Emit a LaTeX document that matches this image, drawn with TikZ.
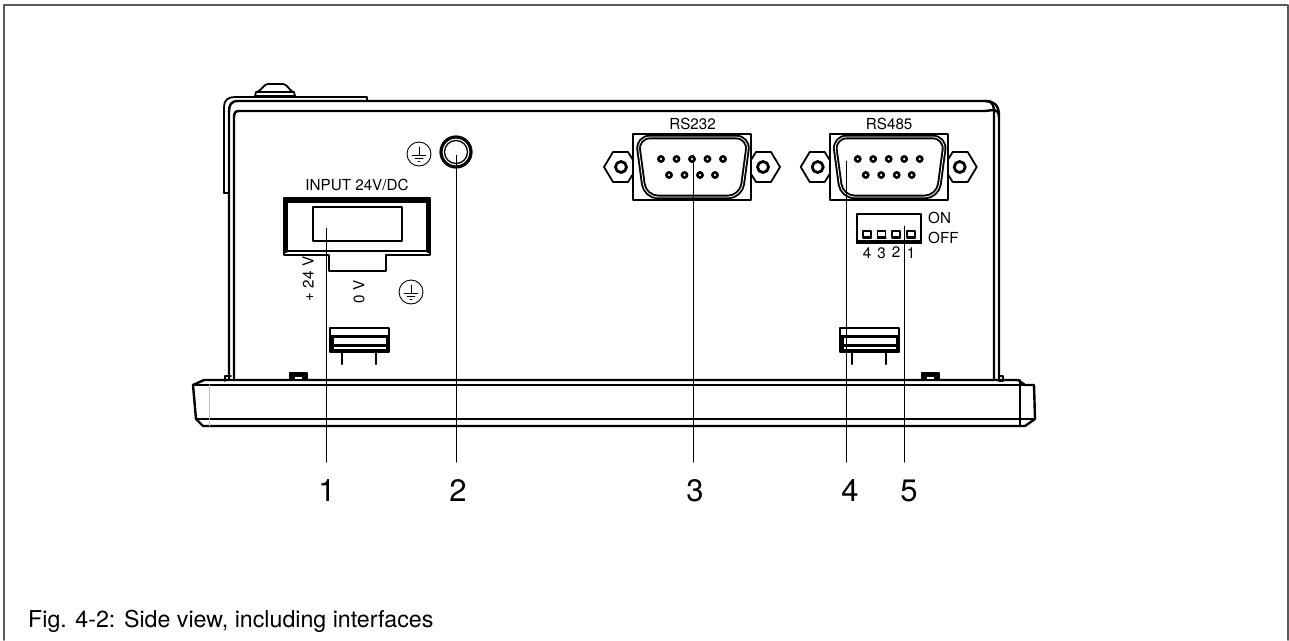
\documentclass[tikz,border=0pt]{standalone}
\usepackage{fontspec}
\setmainfont{TeX Gyre Heros}
\usetikzlibrary{positioning}

\begin{document}
\begin{tikzpicture}[x=1pt, y=-1pt, line join = round, line cap = round,
    heavy/.style={line width=2.4pt},
    medium/.style={line width=1.8pt},
    leader/.style={line width=1pt},
    shell/.style={line width=1.9pt, double, double distance=0.8pt, rounded corners=13pt},
    smalltext/.style={font=\fontsize{15.2}{15.2}\selectfont, inner sep=0pt},
    numtext/.style={font=\fontsize{31}{31}\selectfont, inner sep=0pt}]

    \useasboundingbox (0,0) rectangle (1289,640);

    % outer frame
    \draw[line width=1.5pt, black!65] (4,640) -- (4,5) -- (1288,5) -- (1288,640);

    % housing
    \draw[heavy] (234,380) -- (234,118) .. controls (234,113) and (235,111) .. (239,111) -- (985,111);
    \draw[heavy] (229,380) -- (229,112) .. controls (229,105) and (231,101) .. (238,101) -- (985,101)
                 .. controls (993,101) and (994,106) .. (994,112) -- (994,380);
    \draw[heavy] (985,111) .. controls (991,111) and (999,106) .. (999,118) -- (999,380);
    \draw[heavy] (985,101) .. controls (993,101) and (999,104) .. (999,116);
    \draw[medium] (224,193) -- (224,107) .. controls (224,100) and (228,97) .. (235,97) -- (367,97) -- (367,101);
    \draw[medium] (229,193) -- (224,193);
    \draw[medium, fill=white] (255,96) -- (256,92) -- (294,92) -- (295,96) -- cycle;
    \draw[medium] (257,92) .. controls (262,90) and (264,84) .. (268,84) -- (283,84) .. controls (287,84) and (289,90) .. (293,92);

    % front bezel
    \draw[heavy] (204,380) -- (1018,380) -- (1025,385) -- (1034,385) -- (1035,419) -- (1025,426) -- (203,426)
                 -- (196,419) -- (193,385) -- (204,380) -- cycle;
    \draw[heavy] (193,385) -- (1034,385);
    \draw[heavy] (196,419) -- (1034,419);
    \draw[medium] (1020,380) -- (1020,426);
    \draw[line width=0.6pt, black!25] (209,385) -- (209,426);
    \foreach \tx in {290,922}{
        \draw[medium, fill=black] (\tx,373) rectangle ++(17,7);
        \fill[white] (\tx+5,376.5) rectangle ++(7,2);
    }
    \draw[medium] (225,381) -- (225,376) -- (231,376);
    \draw[medium] (999,376) -- (1003,376) -- (1003,381) -- (999,381);

    % clips
    \foreach \cx in {330,840}{
        \draw[medium] (\cx,328) rectangle ++(59,24);
        \draw[line width=4pt] (\cx+1.5,337) -- (\cx+1.5,351);
        \draw[line width=4pt] (\cx+57.5,337) -- (\cx+57.5,351);
        \draw[heavy] (\cx+1.5,336.5) -- ++(56,0);
        \draw[heavy] (\cx+1.5,345.5) -- ++(56,0);
        \draw[heavy] (\cx+1.5,350.5) -- ++(56,0);
        \draw[heavy] (\cx+12,352) -- ++(0,12);
        \draw[heavy] (\cx+46,352) -- ++(0,12);
    }

    % power connector
    \draw[heavy] (284,198) -- (430,198) -- (430,255) -- (386,255) -- (386,271) -- (329,271) -- (329,255) -- (284,255) -- cycle;
    \draw[line width=4pt] (285,201) -- (429,201);
    \draw[line width=4pt] (286,201) -- (286,251);
    \draw[line width=4pt] (428,201) -- (428,251);
    \draw[heavy] (286,251) -- (428,251);
    \draw[heavy] (313,207) rectangle (402,241);
    \node[smalltext] (input) at (357,185) {INPUT 24V/DC};
    \node[smalltext, rotate=90] (plus) at (308,279) {+ 24 V};
    \node[smalltext, rotate=90] (zero) at (359,292) {0 V};

    % ground symbols
    \foreach \gx/\gy in {419/154,411/292}{
        \draw[line width=0.9pt] (\gx,\gy) circle [radius=12];
        \draw[line width=0.9pt] (\gx,\gy-7) -- (\gx,\gy+1);
        \draw[line width=0.9pt] (\gx-7,\gy+1) -- (\gx+7,\gy+1);
        \draw[line width=0.9pt] (\gx-4,\gy+4) -- (\gx+4,\gy+4);
        \draw[line width=0.9pt] (\gx-1,\gy+7) -- (\gx+1,\gy+7);
    }

    % ground screw
    \draw[line width=3.2pt] (456,152) circle [radius=15];
    \draw[line width=1.3pt] (456,152) circle [radius=11.5];

    % sub-d connectors
    \foreach \dx/\lbl/\nm in {0/RS232/rsa,196.7/RS485/rsb}{
        \begin{scope}[shift={(\dx,0)}]
            \draw[medium] (604,167) -- (613,152) -- (628,152) -- (633,160);
            \draw[medium] (604,167) -- (613,182) -- (628,182) -- (633,174);
            \draw[medium] (780,167) -- (771,152) -- (756,152) -- (751,160);
            \draw[medium] (780,167) -- (771,182) -- (756,182) -- (751,174);
            \draw[line width=2.8pt] (621,167) circle [radius=5.5];
            \draw[line width=2.8pt] (763,167) circle [radius=5.5];
            \draw[heavy] (633,134) rectangle (751,200);
            \draw[shell, fill=white] (637,137) -- (749,137) -- (741,197) -- (645,197) -- cycle;
            \foreach \px in {661,676.5,692,707.5,723}{
                \draw[line width=2.6pt] (\px,159) circle [radius=2.6];
            }
            \foreach \px in {669,684.5,700,715}{
                \draw[line width=2.6pt] (\px,175) circle [radius=2.6];
            }
            \node[smalltext] (\nm) at (692.5,124) {\lbl};
        \end{scope}
    }

    % dip switch
    \draw[medium] (857,214) rectangle (921,243);
    \draw[heavy] (857,243) -- (921,243);
    \draw[heavy] (857,241) -- (921,241);
    \foreach \sx/\snum/\sy in {867/4/253,881.5/3/253,896/2/252,911/1/253}{
        \draw[medium, fill=white] (\sx-4,231) rectangle (\sx+4,237);
        \draw[line width=2pt] (\sx-4,237.5) -- (\sx+4,237.5);
        \node[smalltext] (dip\snum) at (\sx,\sy) {\snum};
    }
    \node[smalltext, anchor=west] (on) at (928,218) {ON};
    \node[smalltext, anchor=west] (off) at (928,238) {OFF};

    % leaders
    \coordinate (t1) at (326.5,228);
    \coordinate (t2) at (456,155);
    \coordinate (t3) at (693.5,155);
    \coordinate (t4) at (846,161);
    \coordinate (t5) at (904.5,226);
    \node[numtext] (n1) at (327,490.5) {1};
    \node[numtext] (n2) at (458,490.5) {2};
    \node[numtext] (n3) at (695,490.5) {3};
    \node[numtext] (n4) at (850,490.5) {4};
    \node[numtext] (n5) at (909,490.5) {5};
    \coordinate (b1) at (326.5,462);
    \coordinate (b2) at (456,462);
    \coordinate (b3) at (693.5,462);
    \coordinate (b4) at (846,462);
    \coordinate (b5) at (904.5,462);
    \foreach \i in {1,...,5}{
        \draw[leader] (t\i) -- (b\i);
    }

    % caption
    \node[anchor=base west, inner sep=0pt, font=\fontsize{23.2}{23.2}\selectfont] (caption) at (28,627) {Fig. 4-2: Side view, including interfaces};

\end{tikzpicture}
\end{document}
